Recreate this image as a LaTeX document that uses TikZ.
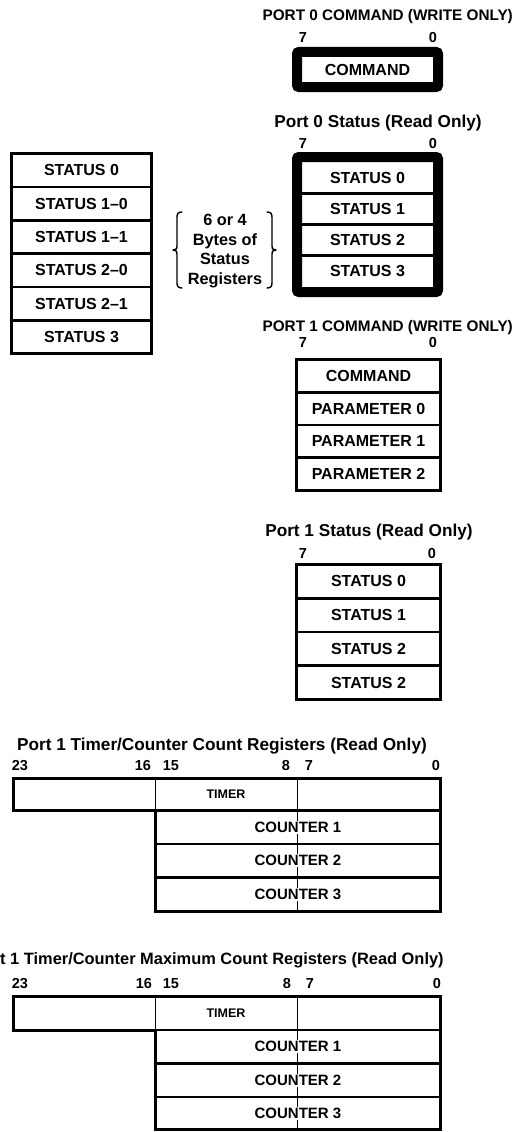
\documentclass[tikz,border=0pt]{standalone}
\usepackage{fontspec}
\setmainfont{Liberation Sans}
\begin{document}
\begin{tikzpicture}[x=1pt,y=-1pt,
  lbl/.style={font=\bfseries\fontsize{16}{19}\selectfont, inner sep=0pt},
  ttl/.style={font=\bfseries\fontsize{15.3}{18}\selectfont, inner sep=0pt},
  ttlm/.style={font=\bfseries\fontsize{17.2}{20}\selectfont, inner sep=0pt},
  bitn/.style={font=\bfseries\fontsize{14.5}{16}\selectfont, inner sep=0pt, anchor=base},
  small/.style={font=\bfseries\fontsize{12.5}{15}\selectfont, inner sep=0pt},
  heavy/.style={line width=10pt, rounded corners=2pt},
  frame/.style={line width=3pt},
  sepline/.style={line width=2.6pt},
  thinline/.style={line width=0.8pt},
  brc/.style={line width=1.4pt, line cap=round, line join=round},
  wlbl/.style={font=\bfseries\fontsize{15}{18}\selectfont, inner sep=0pt, fill=white, inner ysep=1pt}
]
\useasboundingbox (0,0) rectangle (519,1132);

% ---------- Port 0 command ----------
\node[ttl, anchor=east] (t0c) at (513,17) {PORT 0 COMMAND (WRITE ONLY)};
\node[bitn] (b0c7) at (303,43) {7};
\node[bitn] (b0c0) at (433,43) {0};
\draw[heavy] (297,52) rectangle (438,87);
\node[lbl] (p0cmd) at (367.5,69.5) {COMMAND};

% ---------- Port 0 status ----------
\node[ttlm] (t0s) at (378,123) {Port 0 Status (Read Only)};
\node[bitn] (b0s7) at (303,148) {7};
\node[bitn] (b0s0) at (433,148) {0};
\draw[heavy] (297,157) rectangle (438,292);
\foreach \y in {193.25,224.5,255.75} \draw[sepline] (302,\y) -- (433,\y);
\node[lbl] (p0s0) at (367.5,177.6) {STATUS 0};
\node[lbl] (p0s1) at (367.5,208.9) {STATUS 1};
\node[lbl] (p0s2) at (367.5,240.1) {STATUS 2};
\node[lbl] (p0s3) at (367.5,271.4) {STATUS 3};

% ---------- left stack ----------
\draw[frame] (11.5,153.5) rectangle (151.5,353.5);
\foreach \y in {186.8,220.2,253.5,286.8,320.2} \draw[sepline] (11.5,\y) -- (151.5,\y);
\node[lbl] (ls0) at (81.5,170.2) {STATUS 0};
\node[lbl] (ls10) at (81.5,203.5) {STATUS 1--0};
\node[lbl] (ls11) at (81.5,236.8) {STATUS 1--1};
\node[lbl] (ls20) at (81.5,270.2) {STATUS 2--0};
\node[lbl] (ls21) at (81.5,303.5) {STATUS 2--1};
\node[lbl] (ls3) at (81.5,336.8) {STATUS 3};

% ---------- brace note ----------
\node[lbl, align=center, font=\bfseries\fontsize{16.3}{19.5}\selectfont] (note) at (225,251)
  {6 or 4\\Bytes of\\Status\\Registers};
\draw[brc] (182,212) .. controls (178.5,212) and (177,213.5) .. (177,217) -- (177,246)
  .. controls (177,249) .. (173,250) .. controls (177,251) .. (177,254) -- (177,283)
  .. controls (177,286.5) and (178.5,288) .. (182,288);
\draw[brc] (267,212) .. controls (270.5,212) and (272,213.5) .. (272,217) -- (272,246)
  .. controls (272,249) .. (276,250) .. controls (272,251) .. (272,254) -- (272,283)
  .. controls (272,286.5) and (270.5,288) .. (267,288);

% ---------- Port 1 command ----------
\node[ttl, anchor=east] (t1c) at (513,328) {PORT 1 COMMAND (WRITE ONLY)};
\node[bitn] (b1c7) at (303,347) {7};
\node[bitn] (b1c0) at (433,347) {0};
\draw[frame] (296.5,359.5) rectangle (440.5,490.5);
\foreach \y in {392.25,425,457.75} \draw[sepline] (296.5,\y) -- (440.5,\y);
\node[lbl] (p1cmd) at (368.5,375.9) {COMMAND};
\node[lbl] (p1p0) at (368.5,408.6) {PARAMETER 0};
\node[lbl] (p1p1) at (368.5,441.4) {PARAMETER 1};
\node[lbl] (p1p2) at (368.5,474.1) {PARAMETER 2};

% ---------- Port 1 status ----------
\node[ttlm] (t1s) at (369,532) {Port 1 Status (Read Only)};
\node[bitn] (b1s7) at (303,558) {7};
\node[bitn] (b1s0) at (432,558) {0};
\draw[frame] (296.5,564.5) rectangle (440.5,699.5);
\foreach \y in {598.25,632,665.75} \draw[sepline] (296.5,\y) -- (440.5,\y);
\node[lbl] (p1s0) at (368.5,581.4) {STATUS 0};
\node[lbl] (p1s1) at (368.5,615.1) {STATUS 1};
\node[lbl] (p1s2) at (368.5,648.9) {STATUS 2};
\node[lbl] (p1s3) at (368.5,682.6) {STATUS 2};

% ---------- Timer/counter count registers ----------
\node[ttlm] (tcc) at (222,746) {Port 1 Timer/Counter Count Registers (Read Only)};
\node[bitn] (c23) at (20,770) {23};
\node[bitn] (c16) at (143,770) {16};
\node[bitn] (c15) at (171,770) {15};
\node[bitn] (c8) at (286,770) {8};
\node[bitn] (c7) at (309,770) {7};
\node[bitn] (c0) at (436,770) {0};
\draw[thinline] (155,778.5) -- (155,810.5);
\draw[thinline] (297,778.5) -- (297,911);
\draw[frame, line join=miter] (13.5,778.5) -- (440.5,778.5) -- (440.5,911) -- (155,911)
  -- (155,810.5) -- (13.5,810.5) -- cycle;
\draw[sepline] (155,810.5) -- (440.5,810.5);
\foreach \y in {844,877.5} \draw[sepline] (155,\y) -- (440.5,\y);
\node[small] (ctim) at (226,794.5) {TIMER};
\node[wlbl] (cc1) at (298,827.25) {COUNTER 1};
\node[wlbl] (cc2) at (298,860.75) {COUNTER 2};
\node[wlbl] (cc3) at (298,894.25) {COUNTER 3};

% ---------- Timer/counter maximum count registers ----------
\node[ttlm, anchor=west, font=\bfseries\fontsize{16.4}{20}\selectfont] (tcm) at (0,960) {t 1 Timer/Counter Maximum Count Registers (Read Only)};
\node[bitn] (m23) at (20,988) {23};
\node[bitn] (m16) at (144,988) {16};
\node[bitn] (m15) at (171,988) {15};
\node[bitn] (m8) at (287,988) {8};
\node[bitn] (m7) at (310,988) {7};
\node[bitn] (m0) at (437,988) {0};
\draw[thinline] (155,996.5) -- (155,1030);
\draw[thinline] (297,996.5) -- (297,1129.5);
\draw[frame, line join=miter] (13.5,996.5) -- (440.5,996.5) -- (440.5,1129.5) -- (155,1129.5)
  -- (155,1030) -- (13.5,1030) -- cycle;
\draw[sepline] (155,1030) -- (440.5,1030);
\foreach \y in {1063.5,1097} \draw[sepline] (155,\y) -- (440.5,\y);
\node[small] (mtim) at (226,1013.25) {TIMER};
\node[wlbl] (mc1) at (298,1046.75) {COUNTER 1};
\node[wlbl] (mc2) at (298,1080.25) {COUNTER 2};
\node[wlbl] (mc3) at (298,1113.25) {COUNTER 3};
\end{tikzpicture}
\end{document}
